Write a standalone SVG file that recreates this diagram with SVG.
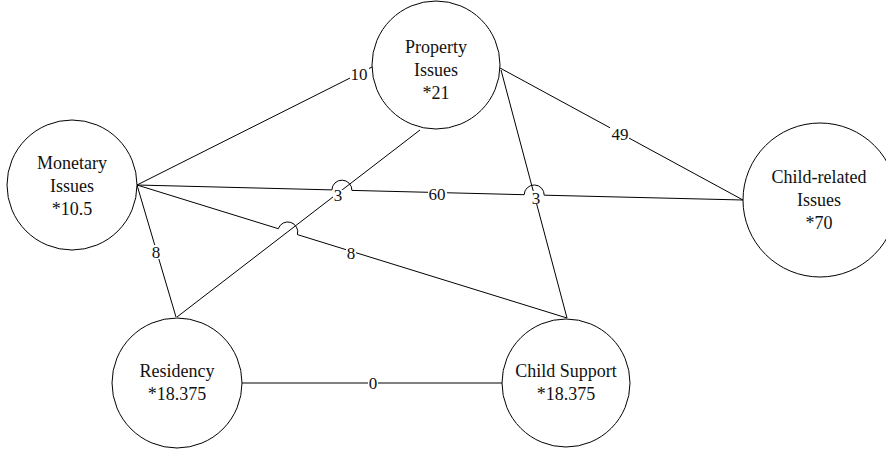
<svg xmlns="http://www.w3.org/2000/svg" width="886" height="454" viewBox="0 0 886 454">
<style>
.edge{fill:none;stroke:#000;stroke-width:1}
.node{fill:#fff;stroke:#000;stroke-width:1}
.nt{font-family:"Liberation Serif","Times New Roman",serif;font-size:18px;fill:#111;text-anchor:middle}
.lt{font-family:"Liberation Serif","Times New Roman",serif;font-size:17px;fill:#111;text-anchor:middle}
.bg{fill:#fff}
</style>
<rect width="886" height="454" fill="#fff"/>
<g id="connectors">
<path class="edge" d="M137,185 L372,67"/>
<path class="edge" d="M137,185 L331.9,189.9 A10,10 0 0 1 351.9,190.4 L524.2,194.7 A10,10 0 0 1 544.2,195.2 L743,200"/>
<path class="edge" d="M137,185 L176,317"/>
<path class="edge" d="M137,185 L278.3,228.7 A10,10 0 0 1 297.4,234.6 L567,318"/>
<path class="edge" d="M420,130 L177,317"/>
<path class="edge" d="M500,68 L743,200"/>
<path class="edge" d="M501,70 L567,318"/>
<path class="edge" d="M242,383 L502,383"/>
<g id="label-10"><rect class="bg" x="350" y="66" width="19" height="15"/><text class="lt" x="359" y="80">10</text></g>
<g id="label-49"><rect class="bg" x="610" y="126" width="19" height="15"/><text class="lt" x="620" y="140">49</text></g>
<g id="label-60"><rect class="bg" x="428" y="187" width="19" height="14"/><text class="lt" x="437" y="200">60</text></g>
<g id="label-3a"><rect class="bg" x="333" y="190" width="10" height="12"/><text class="lt" x="338" y="201">3</text></g>
<g id="label-3b"><rect class="bg" x="531" y="191" width="10" height="13"/><text class="lt" x="536" y="204">3</text></g>
<g id="label-8a"><rect class="bg" x="151" y="245" width="10" height="14"/><text class="lt" x="156" y="258">8</text></g>
<g id="label-8b"><rect class="bg" x="346" y="246" width="10" height="14"/><text class="lt" x="351" y="259">8</text></g>
<g id="label-0"><rect class="bg" x="368" y="376" width="10" height="14"/><text class="lt" x="373" y="389">0</text></g>
</g>
<g id="node-property"><circle class="node" cx="436" cy="65" r="64"/><text class="nt" x="436" y="53">Property</text><text class="nt" x="436" y="76">Issues</text><text class="nt" x="436" y="99">*21</text></g>
<g id="node-monetary"><circle class="node" cx="72" cy="185" r="65"/><text class="nt" x="72" y="169">Monetary</text><text class="nt" x="72" y="192">Issues</text><text class="nt" x="72" y="215">*10.5</text></g>
<g id="node-child-related"><circle class="node" cx="820" cy="200" r="77"/><text class="nt" x="819" y="183">Child-related</text><text class="nt" x="819" y="206">Issues</text><text class="nt" x="819" y="229">*70</text></g>
<g id="node-residency"><circle class="node" cx="177" cy="383" r="65"/><text class="nt" x="177" y="377">Residency</text><text class="nt" x="177" y="400">*18.375</text></g>
<g id="node-child-support"><circle class="node" cx="566" cy="383" r="64"/><text class="nt" x="566" y="377">Child Support</text><text class="nt" x="566" y="400">*18.375</text></g>
</svg>
